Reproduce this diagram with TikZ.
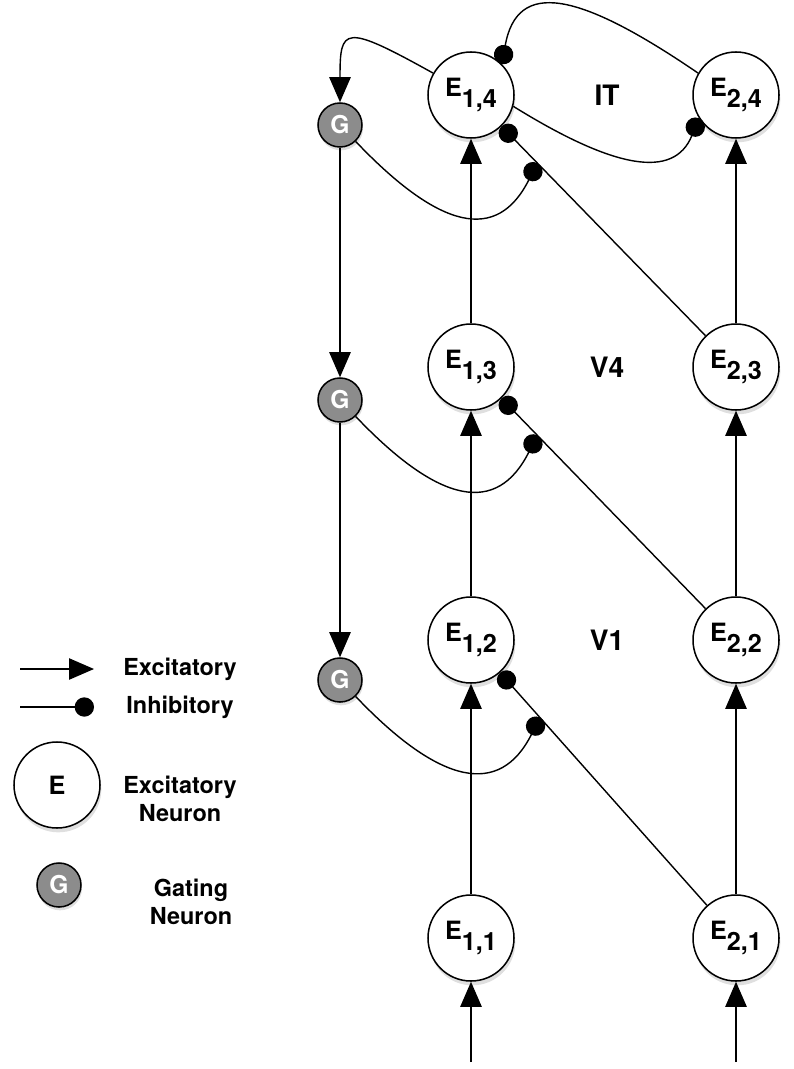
\documentclass[tikz,border=0pt]{standalone}
\usepackage{fontspec}
\setmainfont{TeX Gyre Heros}
\usetikzlibrary{calc}
\usetikzlibrary{positioning}
\usetikzlibrary{arrows.meta}
\usetikzlibrary{shadows}
\definecolor{gategray}{RGB}{140,140,140}
\newcommand{\lowsub}[1]{\raisebox{-10pt}{#1}}
\tikzset{excnode/.style={circle,
                        draw=black,
                        line width=1.3pt,
                        fill=white,
                        minimum size=25.8mm,
                        inner sep=0pt,
                        font=\fontsize{21.5}{24}\selectfont\bfseries,
                        drop shadow={shadow xshift=0.4mm, shadow yshift=-1.3mm, opacity=0.25}
                        },
        gatenode/.style={circle,
                        draw=black,
                        line width=1.3pt,
                        fill=gategray,
                        text=white,
                        minimum size=13.2mm,
                        inner sep=0pt,
                        font=\fontsize{21}{24}\selectfont\bfseries,
                        drop shadow={shadow xshift=0.3mm, shadow yshift=-1mm, opacity=0.25}
        },
        excline/.style={-{Triangle[length=7.5mm,width=6.4mm]}, line width=1.2pt},
        inhline/.style={-{Circle[length=5.8mm]}, line width=1.2pt},
        layerlabel/.style={font=\fontsize{24}{28}\selectfont\bfseries},
        legendtext/.style={font=\fontsize{20}{24}\selectfont\bfseries, align=center},
}
\begin{document}
\begin{tikzpicture}
    [x=0.3mm,y=-0.3mm,on grid]
    \useasboundingbox (0,0) rectangle (793,1069);

    % IT LAYER
    \node[excnode] (e14) at (471,95) {E\lowsub{1,4}};
    \node[excnode, right=79.5mm of e14] (e24) {E\lowsub{2,4}};
    \node[layerlabel, right=40.8mm of e14] (layerIT) {IT};
    \node[gatenode, below left=9mm and 39.3mm of e14] (gate1) {G};

    % V4 LAYER
    \node[excnode, below=81.6mm of e14] (e13) {E\lowsub{1,3}};
    \node[excnode, right=79.5mm of e13] (e23) {E\lowsub{2,3}};
    \node[layerlabel, right=40.8mm of e13] (layerVfour) {V4};
    \node[gatenode, below=82.5mm of gate1] (gate2) {G};

    % V1 LAYER
    \node[excnode, below=81.9mm of e13] (e12) {E\lowsub{1,2}};
    \node[excnode, right=79.5mm of e12] (e22) {E\lowsub{2,2}};
    \node[layerlabel, right=40.8mm of e12] (layerVone) {V1};
    \node[gatenode, below=84mm of gate2] (gate3) {G};

    % INPUT LAYER
    \node[excnode, below=89.4mm of e12] (e11) {E\lowsub{1,1}};
    \node[excnode, right=79.5mm of e11] (e21) {E\lowsub{2,1}};
    \coordinate[below=37.2mm of e11] (in11);
    \coordinate[below=37.2mm of e21] (in21);

    % FEEDFORWARD
    \draw[excline] (in11) -- (e11);
    \draw[excline] (in21) -- (e21);
    \draw[excline] (e11) -- (e12);
    \draw[excline] (e12) -- (e13);
    \draw[excline] (e13) -- (e14);
    \draw[excline] (e21) -- (e22);
    \draw[excline] (e22) -- (e23);
    \draw[excline] (e23) -- (e24);

    % LATERAL INHIBITION
    \draw[inhline] (e21) -- (e12);
    \draw[inhline] (e22) -- (e13);
    \draw[inhline] (e23) -- (e14);
    \draw[inhline] (e24.150) .. controls +(-120,-82) and +(15,-85) .. (e14.45);
    \draw[inhline] (e14.-15) .. controls +(100,62) and +(-25,62) .. (e24.-148);

    % GATING
    \coordinate (inh1) at ($(e14)!0.25!(e23)$);
    \coordinate (inh2) at ($(e13)!0.25!(e22)$);
    \coordinate (inh3) at ($(e12)!0.26!(e21)$);
    \draw[excline] (e14.150) .. controls +(-90,-50) and +(0,-75) .. (gate1.north);
    \draw[excline] (gate1) -- (gate2);
    \draw[excline] (gate2) -- (gate3);
    \draw[inhline] (gate1) .. controls +(100,105) and +(-40,80) .. (inh1);
    \draw[inhline] (gate2) .. controls +(100,105) and +(-40,80) .. (inh2);
    \draw[inhline] (gate3) .. controls +(100,105) and +(-40,80) .. (inh3);

    % LEGEND
    \coordinate (excStart) at (20,669);
    \coordinate (excEnd) at (94,669);
    \coordinate (inhStart) at (20,707);
    \coordinate (inhEnd) at (94,707);
    \draw[excline] (excStart) -- (excEnd);
    \draw[inhline] (inhStart) -- (inhEnd);
    \node[legendtext] (excText) at (180,669) {Excitatory};
    \node[legendtext] (inhText) at (180,707) {Inhibitory};
    \node[excnode] (excKey) at (57,785) {E};
    \node[legendtext] (excKeyText) at (180,799) {Excitatory\\Neuron};
    \node[gatenode] (gateKey) at (59,885) {G};
    \node[legendtext] (gateKeyText) at (191,902) {Gating\\Neuron};

\end{tikzpicture}
\end{document}
